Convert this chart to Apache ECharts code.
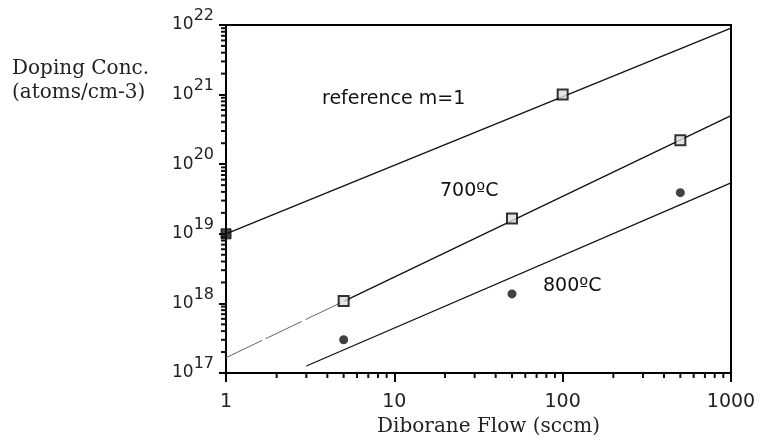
<!DOCTYPE html>
<html>
<head>
<meta charset="utf-8">
<script src="https://cdn.jsdelivr.net/npm/echarts@6/dist/echarts.min.js"></script>
<style>html,body{margin:0;padding:0;background:#fff}#c{width:762px;height:444px}</style>
</head>
<body>
<div id="c"></div>
<script>
// ---- data ----
const refPoints = [[1, 1e19], [100, 1e21]];
const pts700 = [[5, 1.08e18], [50, 1.66e19], [500, 2.2e20]];
const pts800 = [[5, 3.0e17], [50, 1.37e18], [500, 3.9e19]];
const refLine = [[1, 1e19], [1000, 9e21]];
const fit700 = [[5, 1.07e18], [1000, 5.0e20]];
const fit700Ext = [[1, 1.66e17], [5, 1.07e18]];
const fit800 = [[3, 1.26e17], [1000, 5.4e19]];
const xMinorTicks = [2,3,4,5,6,7,8,9,20,30,40,50,60,70,80,90,200,300,400,500,600,700,800,900];
const yMinorMant = [2,3,4,5,6,7,8,9];
const yDecades = [17,18,19,20,21];
const yMinorTicks = [];
yDecades.forEach(d => yMinorMant.forEach(m => yMinorTicks.push(m * Math.pow(10, d))));
const xTitle = 'Diborane Flow (sccm)';
const yTitle = ['Doping Conc.', '(atoms/cm-3)'];
const annoRef = 'reference m=1';
const anno700 = '700\u00BAC';
const anno800 = '800\u00BAC';

const chart = echarts.init(document.getElementById('c'));
const sans = 'DejaVu Sans';
const serif = 'DejaVu Serif';

function tickSeries(vals, isX) {
  return {
    type: 'custom',
    silent: true,
    clip: false,
    data: vals.map(v => isX ? [v, 1e17] : [1, v]),
    renderItem: function (params, api) {
      const p = api.coord([api.value(0), api.value(1)]);
      const shape = isX ? {x1: p[0], y1: p[1], x2: p[0], y2: p[1] + 5}
                        : {x1: p[0], y1: p[1], x2: p[0] - 5, y2: p[1]};
      return {type: 'line', shape: shape, style: {stroke: '#111', lineWidth: 2}};
    },
    z: 5
  };
}

chart.setOption({
  backgroundColor: '#fff',
  animation: false,
  grid: {left: 226, right: 31, top: 25, bottom: 71, show: true, borderColor: '#000', borderWidth: 2, backgroundColor: 'transparent'},
  xAxis: {
    type: 'log', logBase: 10, min: 1, max: 1000,
    name: xTitle, nameLocation: 'middle', nameGap: 35,
    nameTextStyle: {fontFamily: serif, fontSize: 20, color: '#222', padding: [0, 0, 0, 20]},
    axisLine: {lineStyle: {color: '#000', width: 2}},
    axisTick: {show: true, inside: false, length: 9, lineStyle: {color: '#000', width: 2}},
    splitLine: {show: false},
    axisLabel: {fontFamily: sans, fontSize: 19, color: '#222', margin: 20,
      formatter: v => String(Math.round(v))}
  },
  yAxis: {
    type: 'log', logBase: 10, min: 1e17, max: 1e22,
    axisLine: {lineStyle: {color: '#000', width: 2}},
    axisTick: {show: true, inside: false, length: 7, lineStyle: {color: '#000', width: 2}},
    splitLine: {show: false},
    axisLabel: {
      margin: 12,
      formatter: v => '{b|10}{e|' + Math.round(Math.log10(v)) + '}',
      rich: {
        b: {fontFamily: sans, fontSize: 17, color: '#222', verticalAlign: 'middle'},
        e: {fontFamily: sans, fontSize: 16, color: '#222', verticalAlign: 'top', padding: [0, 0, 18, 0]}
      }
    }
  },
  series: [
    {type: 'line', data: refLine, symbol: 'none', lineStyle: {color: '#111', width: 1.3}, z: 2},
    {type: 'line', data: fit700, symbol: 'none', lineStyle: {color: '#111', width: 1.3}, z: 2},
    {type: 'line', data: fit700Ext, symbol: 'none', lineStyle: {color: '#666', width: 1, type: [40, 4]}, z: 2},
    {type: 'line', data: fit800, symbol: 'none', lineStyle: {color: '#111', width: 1.3}, z: 2},
    {type: 'scatter', data: [refPoints[0]], symbol: 'rect', symbolSize: 10,
      itemStyle: {color: '#111', borderColor: '#000', borderWidth: 1}, z: 4},
    {type: 'scatter', data: refPoints.slice(1), symbol: 'rect', symbolSize: 10,
      itemStyle: {color: '#ddd', borderColor: '#000', borderWidth: 2}, z: 4},
    {type: 'scatter', data: pts700, symbol: 'rect', symbolSize: 10,
      itemStyle: {color: '#ddd', borderColor: '#000', borderWidth: 2}, z: 4},
    {type: 'scatter', data: pts800, symbol: 'circle', symbolSize: 9,
      itemStyle: {color: '#111'}, z: 4},
    tickSeries(xMinorTicks, true),
    tickSeries(yMinorTicks, false)
  ],
  graphic: [
    {type: 'text', left: 12, top: 59, style: {text: yTitle[0], font: '20px "' + serif + '"', fill: '#222'}},
    {type: 'text', left: 12, top: 83, style: {text: yTitle[1], font: '20px "' + serif + '"', fill: '#222'}},
    {type: 'text', left: 322, top: 90, style: {text: annoRef, font: '19px "' + sans + '"', fill: '#111'}},
    {type: 'text', left: 440, top: 182, style: {text: anno700, font: '19px "' + sans + '"', fill: '#111'}},
    {type: 'text', left: 543, top: 277, style: {text: anno800, font: '19px "' + sans + '"', fill: '#111'}}
  ]
});
</script>
</body>
</html>
